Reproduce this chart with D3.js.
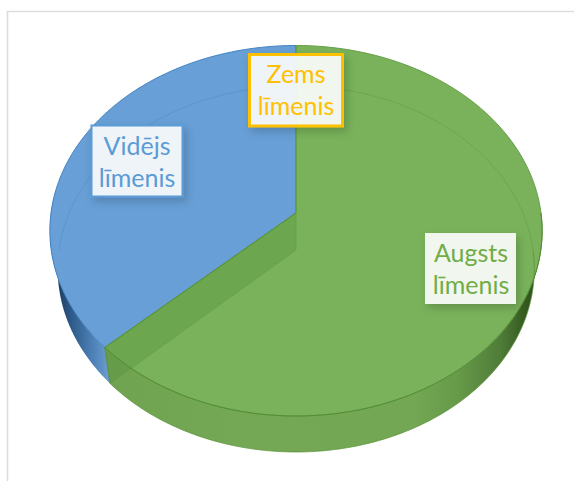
<!DOCTYPE html>
<html><head><meta charset="utf-8">
<script src="https://cdn.jsdelivr.net/npm/d3@7"></script>
<style>html,body{margin:0;padding:0;background:#fff}svg{display:block}</style>
</head><body><svg id="c" width="574" height="481"></svg>
<script>
const categories = ["Augsts līmenis", "Zems līmenis", "Vidējs līmenis"];
const seriesValues = [63, 0, 37];
const seriesColors = ["#79B25A", "#FFC000", "#679FD6"];
const labelTextColors = ["#70AD47", "#FFC000", "#5B9BD5"];

const svg = d3.select("#c");
const defs = svg.append("defs");
const W = 574, H = 481;

// frame
svg.append("rect").attr("width", W).attr("height", H).attr("fill", "#fff");
svg.append("path").attr("d", "M7.5,481V11.5H574").attr("fill", "none").attr("stroke", "#dddddd").attr("stroke-width", 1.6);

// projective map of a unit disc onto a perspective ellipse
function disc(cx, k, yBack, yMid, yFront) {
  const c = (2 * yMid - yBack - yFront) / (yFront - yBack);
  const a = yFront * (1 + c) - yMid;
  return ang => {
    const u = Math.sin(ang), v = -Math.cos(ang);
    const w = c * v + 1;
    return [cx + k * u / w, (a * v + yMid) / w];
  };
}
const topDisc = disc(296, 245, 45.5, 213, 416);
const botDisc = disc(296, 237, 86, 250, 452);
const centerTop = [296, 213], centerBot = [296, 250];

const pie = d3.pie().sort(null).value(d => d);
const arcs = pie(seriesValues);
const line = d3.line();
const rim = (f, a0, a1) => d3.range(0, 121).map(i => f(a0 + (a1 - a0) * i / 120));

const green = arcs[0], blue = arcs[2];
const TAU = Math.PI * 2;

function grad(id, stops, x1, x2) {
  const g = defs.append("linearGradient").attr("id", id).attr("gradientUnits", "userSpaceOnUse")
    .attr("x1", x1).attr("x2", x2).attr("y1", 0).attr("y2", 0);
  stops.forEach(s => g.append("stop").attr("offset", s[0]).attr("stop-color", s[1]));
}
grad("wallG", [[0, "#70A350"], [0.3, "#74A855"], [0.72, "#73A753"], [0.82, "#679A49"], [0.92, "#4F7C38"], [0.98, "#34591F"], [1, "#2F5220"]], 105, 535);
grad("wallB", [[0, "#1B3A5C"], [0.3, "#2F5C8C"], [0.7, "#4F83B8"], [1, "#6E9FCE"]], 56, 110);

// side walls (front part only), top faces cover the rest
const wall = (a0, a1, fill) => svg.append("path")
  .attr("d", line(rim(topDisc, a0, a1).concat(rim(botDisc, a0, a1).reverse())) + "Z")
  .attr("fill", fill);
wall(TAU / 4, green.endAngle, "url(#wallG)");
wall(blue.startAngle, TAU * 0.77, "url(#wallB)");

// top faces
const face = (d, col, edge) => svg.append("path")
  .attr("d", line([centerTop].concat(rim(topDisc, d.startAngle, d.endAngle))) + "Z")
  .attr("fill", col).attr("stroke", edge).attr("stroke-width", 1);
face(blue, seriesColors[2], "#4384C3");
face(green, seriesColors[0], "#669F47");

// seam wall seen through the green face
const seam = green.endAngle;
svg.append("path")
  .attr("d", line([centerTop, topDisc(seam), botDisc(seam), centerBot]) + "Z")
  .attr("fill", "#4F8F3A").attr("fill-opacity", 0.3).attr("stroke", "#5F9A3E").attr("stroke-opacity", 0.5);
svg.append("path").attr("d", line([topDisc(seam), botDisc(seam)])).attr("stroke", "#4D7F33").attr("stroke-opacity", .6).attr("fill", "none");
svg.append("path").attr("d", line([topDisc(seam), centerTop])).attr("stroke", "#5A9439").attr("fill", "none");
svg.append("path").attr("d", line([[296, 45.5], centerTop])).attr("stroke", "#5F9A3E").attr("fill", "none");

// far rim of the base seen through the faces
const inner = (a0, a1, col) => svg.append("path")
  .attr("d", line(rim(botDisc, a0, a1))).attr("fill", "none").attr("stroke", col).attr("stroke-width", 1);
inner(0, TAU / 4, "#6DA64E");
inner(TAU * 0.75, TAU, "#5B96CF");

// near rim of the top face
svg.append("path").attr("d", line(rim(topDisc, TAU / 4, seam))).attr("fill", "none").attr("stroke", "#528C33").attr("stroke-width", 1);
// outer silhouette at the base
svg.append("path").attr("d", line(rim(botDisc, TAU / 4, seam))).attr("fill", "none").attr("stroke", "#5A9139").attr("stroke-width", .7);

// labels
const f = defs.append("filter").attr("id", "sh").attr("x", "-30%").attr("y", "-30%").attr("width", "170%").attr("height", "170%");
f.append("feDropShadow").attr("dx", 3).attr("dy", 4).attr("stdDeviation", 4).attr("flood-color", "#000").attr("flood-opacity", .2);

const boxes = [
  {i: 0, x: 425, y: 233, w: 91, h: 71, b: 0, tx: 471, ty: 262},
  {i: 1, x: 249.5, y: 54.5, w: 93, h: 71.5, b: 3, tx: 296, ty: 83},
  {i: 2, x: 91.5, y: 125.5, w: 91, h: 71, b: 2, tx: 137, ty: 155}
];
boxes.forEach(b => {
  svg.append("rect").attr("x", b.x).attr("y", b.y).attr("width", b.w).attr("height", b.h)
    .attr("fill", "#fff").attr("fill-opacity", .89).attr("stroke", labelTextColors[b.i])
    .attr("stroke-width", b.b).attr("stroke-opacity", b.b ? 1 : 0).attr("filter", "url(#sh)");
  const words = categories[b.i].split(" ");
  const t = svg.append("text").attr("text-anchor", "middle").attr("font-family", "Lato")
    .attr("font-size", 25).attr("fill", labelTextColors[b.i]);
  words.forEach((w, k) => t.append("tspan").attr("x", b.tx).attr("y", b.ty + k * 32).text(w));
});
</script></body></html>
